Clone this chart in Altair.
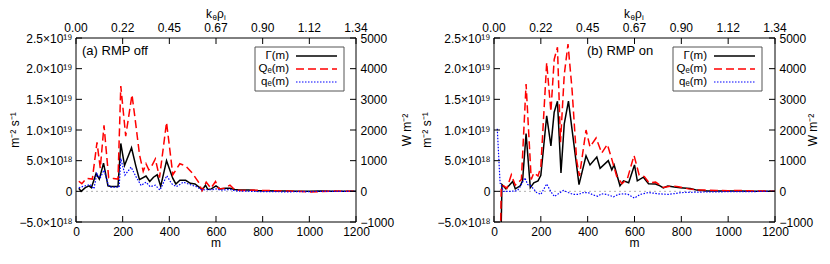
import altair as alt
import pandas as pd

# ---------------- data ----------------
m_ticks = [0, 200, 400, 600, 800, 1000, 1200]
k_labels = ["0.00", "0.22", "0.45", "0.67", "0.90", "1.12", "1.34"]
left_ticks = [-5, 0, 5, 10, 15, 20, 25]                  # units of 1e18 m^-2 s^-1
right_ticks = [-1000, 0, 1000, 2000, 3000, 4000, 5000]   # W m^-2

# panel (a) RMP off
a_gamma_m = [12, 22, 40, 56, 66, 86, 100, 118, 137, 150, 165, 180, 192, 208, 238, 256, 272,
             300, 316, 332, 348, 363, 388, 415, 428, 445, 470, 490, 510, 530, 542, 555, 565,
             580, 600, 618, 640, 660, 680, 700, 740, 780, 820, 860, 900, 950, 1000, 1050,
             1100, 1150, 1200]
a_gamma = [0.5, 0.0, 0.6, 0.9, 0.6, 2.9, 2.0, 4.6, 0.9, 0.8, 0.8, 0.8, 7.8, 4.2, 7.1, 4.2, 1.9,
           2.5, 1.6, 2.3, 2.7, 0.8, 5.0, 2.1, 1.2, 1.8, 1.8, 1.3, 1.2, 0.6, 0.3, 1.0, 0.3,
           0.4, 0.9, 0.4, 0.5, 0.5, 0.3, 0.2, 0.2, 0.1, 0.1, 0.05, 0.05, 0.0, 0.0, 0.05,
           0.0, 0.0, 0.0]
a_Q_m = [12, 25, 45, 70, 90, 104, 120, 140, 160, 180, 192, 213, 240, 256, 272, 288, 300, 312,
         326, 340, 358, 388, 415, 445, 470, 500, 525, 540, 558, 578, 598, 612, 635, 660, 682,
         720, 760, 800, 850, 900, 950, 1000, 1050, 1100, 1150, 1200]
a_Q = [330, 250, 420, 400, 1600, 750, 2150, 440, 420, 400, 3430, 1800, 3150, 2200, 1200, 650,
       900, 700, 850, 1060, 450, 2250, 540, 900, 830, 580, 300, 20, 300, 100, 320, 80, 100,
       200, 40, 30, 40, 30, 20, 10, 0, -20, -10, 10, 0, 0]
a_q_m = [12, 34, 61, 77, 89, 103, 120, 139, 150, 170, 185, 192, 210, 236, 257, 279, 300, 318,
         340, 360, 389, 410, 430, 460, 496, 517, 540, 560, 580, 600, 620, 640, 660, 680, 700,
         750, 800, 850, 900, 950, 1000, 1050, 1100, 1150, 1200]
a_q = [115, 170, 220, 80, 580, 430, 690, 200, 135, 135, 135, 1070, 530, 790, 480, 190, 300,
       150, 200, 40, 510, 250, 150, 300, 200, 150, 40, 60, 50, 80, 40, 50, 60, 20, 10, 0,
       -10, -10, -20, -10, -10, 0, 0, 0, 0]

# panel (b) RMP on
b_gamma_m = [14, 34, 51, 80, 91, 112, 122, 137, 155, 170, 188, 200, 225, 243, 257, 271, 286,
             300, 318, 363, 393, 410, 439, 453, 488, 503, 513, 538, 553, 575, 600, 612, 638,
             660, 690, 709, 723, 742, 770, 795, 838, 866, 910, 960, 1000, 1050, 1100, 1150,
             1200]
b_gamma = [-40, 1.1, 0.4, 1.6, 0.4, 0.9, 1.7, 9.4, 0.6, 1.4, 1.7, 2.6, 12.3, 7.4, 12.9, 14.7,
           3.0, 11.0, 14.7, 1.1, 5.8, 4.3, 5.6, 3.75, 5.0, 3.5, 4.3, 0.9, 1.7, 1.4, 4.3, 1.7,
           2.3, 1.25, 1.2, 0.9, 0.55, 0.85, 0.7, 0.6, 0.45, 0.2, 0.05, 0.05, 0.05, 0.05, 0.02,
           0.02, 0.0]
b_Q_m = [14, 31, 41, 55, 74, 91, 117, 137, 159, 170, 188, 200, 225, 243, 257, 271, 284, 300,
         316, 333, 353, 365, 393, 410, 436, 460, 484, 503, 524, 547, 570, 598, 620, 642, 662,
         690, 723, 760, 788, 830, 870, 900, 950, 1000, 1050, 1100, 1150, 1200]
b_Q = [-8000, 180, 180, 100, 540, 200, 385, 3500, 385, 600, 500, 800, 4200, 2600, 4300, 4700,
       1600, 3800, 4800, 3350, 1010, 500, 2000, 1450, 1740, 1250, 1530, 1050, 490, 250, 420,
       1170, 530, 480, 280, 300, 125, 180, 150, 80, 40, 40, 30, 20, 30, 10, 10, 0]
b_q_m = [14, 26, 32, 40, 70, 100, 110, 132, 144, 154, 170, 182, 200, 225, 242, 258, 275, 296,
         317, 339, 360, 381, 402, 424, 443, 460, 481, 510, 531, 552, 573, 600, 624, 660, 702,
         745, 802, 850, 900, 950, 1000, 1050, 1100, 1150, 1200]
b_q = [2040, 270, 170, 0, 0, 20, 130, 440, 220, 200, 70, -40, -100, 240, 0, -170, -80, 30,
       -40, -100, -100, -40, -40, -120, -160, -80, -100, -180, -100, -80, -100, -220, -100,
       -40, -80, -100, -40, -30, -20, -20, -10, -10, -10, 0, 0]

legend_labels = ["Γ(m)", "Qₑ(m)", "qₑ(m)"]

# ---------------- layout ----------------
FONT = "Liberation Sans"
W, H = 699, 184            # whole drawing area holding both panels
PA = (0, 280)              # panel (a) pixel span
PB = (418, 699)            # panel (b) pixel span

yl = alt.Scale(domain=[-5, 25], nice=False, zero=False)
yr = alt.Scale(domain=[-1000, 5000], nice=False, zero=False)

one = pd.DataFrame({"z": [0]})

left_label_expr = ("datum.value == 0 ? '0' : (abs(datum.value) >= 10 ? "
                   "format(datum.value / 10, '.1f') + '×10¹⁹' : "
                   "format(datum.value, '.1f') + '×10¹⁸')")

AX = dict(ticks=False, domain=False, grid=False, title=None, labelFont=FONT, labelFontSize=12,
          labelColor="black", labelFlush=False, labelOverlap=False)


def text_at(txt, x, y, size=12, align="left", baseline="alphabetic", angle=0):
    kw = dict(text=txt, font=FONT, fontSize=size, align=align, baseline=baseline, color="black")
    if angle:
        kw["angle"] = angle
    return alt.Chart(one).mark_text(**kw).encode(x=alt.value(x), y=alt.value(y))


def hline(x1, x2, y, color, width, dash=None):
    kw = dict(color=color, strokeWidth=width)
    if dash:
        kw["strokeDash"] = dash
    return alt.Chart(one).mark_rule(**kw).encode(x=alt.value(x1), x2=alt.value(x2), y=alt.value(y))


def panel(span, gm, gv, Qm, Qv, qm, qv, label, label_dx, label_align,
          left_off, right_off, ltitle_x, rtitle_x):
    x0, x1 = span
    xs = alt.Scale(domain=[0, 1200], range=[x0, x1], nice=False, zero=False)
    g_df = pd.DataFrame({"m": gm, "v": gv})
    Q_df = pd.DataFrame({"m": Qm, "v": Qv})
    q_df = pd.DataFrame({"m": qm, "v": qv})

    frame = alt.Chart(one).mark_rect(fillOpacity=0, stroke="black", strokeWidth=1).encode(
        x=alt.value(x0), x2=alt.value(x1), y=alt.value(0), y2=alt.value(H))
    zero = alt.Chart(one).mark_rule(color="#b0b0b0", strokeDash=[2, 3], strokeWidth=1).encode(
        y=alt.Y("z:Q", scale=yl, axis=None), x=alt.value(x0), x2=alt.value(x1))

    gamma = alt.Chart(g_df).mark_line(color="black", strokeWidth=1.5, clip=True).encode(
        x=alt.X("m:Q", scale=xs,
                axis=alt.Axis(orient="bottom", values=m_ticks, format="d", labelPadding=4, **AX)),
        y=alt.Y("v:Q", scale=yl,
                axis=alt.Axis(orient="left", offset=left_off, values=left_ticks,
                              labelExpr=left_label_expr, labelPadding=4, **AX)))
    Qe = alt.Chart(Q_df).mark_line(color="#ff0000", strokeWidth=1.5, strokeDash=[8, 4],
                                   clip=True).encode(
        x=alt.X("m:Q", scale=xs, axis=None),
        y=alt.Y("v:Q", scale=yr,
                axis=alt.Axis(orient="right", offset=right_off, values=right_ticks, format="d",
                              labelPadding=4, **AX)))
    qe = alt.Chart(q_df).mark_line(color="#0000ff", strokeWidth=1.2, strokeDash=[1.5, 1.5],
                                   clip=True).encode(
        x=alt.X("m:Q", scale=xs, axis=None),
        y=alt.Y("v:Q", scale=yr, axis=None))

    xt_df = pd.DataFrame({"m": m_ticks, "k": k_labels})
    top_ticks = alt.Chart(xt_df).mark_rule(color="black").encode(
        x=alt.X("m:Q", scale=xs, axis=None), y=alt.value(0), y2=alt.value(6))
    top_labels = alt.Chart(xt_df).mark_text(font=FONT, fontSize=12, baseline="middle",
                                            color="black").encode(
        x=alt.X("m:Q", scale=xs, axis=None), y=alt.value(-10), text="k:N")
    bottom_ticks = alt.Chart(xt_df).mark_rule(color="black").encode(
        x=alt.X("m:Q", scale=xs, axis=None), y=alt.value(H - 6), y2=alt.value(H))
    lt = alt.Chart(pd.DataFrame({"v": left_ticks})).mark_rule(color="black").encode(
        y=alt.Y("v:Q", scale=yl, axis=None), x=alt.value(x0), x2=alt.value(x0 + 6))
    rt = alt.Chart(pd.DataFrame({"v": right_ticks})).mark_rule(color="black").encode(
        y=alt.Y("v:Q", scale=yr, axis=None), x=alt.value(x1 - 6), x2=alt.value(x1))

    titles = [text_at("k", x0 + 130, -20.5, 12), text_at("θ", x0 + 136.5, -18.5, 8),
              text_at("ρ", x0 + 141, -20.5, 12), text_at("i", x0 + 148, -18.5, 8),
              text_at("m", (x0 + x1) / 2, H + 21, 12, "center", "middle"),
              text_at("m⁻² s⁻¹", ltitle_x, H / 2, 12, "center", "middle", 270),
              text_at("W m⁻²", rtitle_x, H / 2, 12, "center", "middle", 270)]

    box = alt.Chart(one).mark_rect(fill="white", stroke="#555555", strokeWidth=1).encode(
        x=alt.value(x0 + 179), x2=alt.value(x0 + 268), y=alt.value(9), y2=alt.value(53))
    tx = x0 + 213
    leg = [box,
           text_at(legend_labels[0], tx, 18, 11.5, "right", "middle"),
           hline(x0 + 220, x0 + 261, 18, "black", 1.5),
           text_at(legend_labels[1], tx, 31, 11.5, "right", "middle"),
           hline(x0 + 220, x0 + 261, 31, "#ff0000", 1.5, [8, 4]),
           text_at(legend_labels[2], tx, 44, 11.5, "right", "middle"),
           hline(x0 + 220, x0 + 261, 44, "#0000ff", 1.2, [1.5, 1.5])]

    lab = text_at(label, x0 + label_dx, 17, 13, label_align)

    return [zero, gamma, Qe, qe, top_ticks, top_labels, bottom_ticks, lt, rt, frame,
            *titles, *leg, lab]


layers_a = panel(PA, a_gamma_m, a_gamma, a_Q_m, a_Q, a_q_m, a_q, "(a) RMP off", 6, "left",
                 0, -(W - PA[1]), -61, 331)
layers_b = panel(PB, b_gamma_m, b_gamma, b_Q_m, b_Q, b_q_m, b_q, "(b) RMP on", 126, "center",
                 -PB[0], 0, 351, 737)

chart = alt.layer(*layers_a, *layers_b).resolve_scale(
    x="independent", y="independent").properties(
    width=W, height=H,
    autosize=alt.AutoSizeParams(type="none"),
    padding={"left": 68, "top": 30, "right": 45, "bottom": 28},
).configure(font=FONT).configure_view(stroke="transparent")

chart.save("out.html", embed_options={"renderer": "svg", "actions": False})
